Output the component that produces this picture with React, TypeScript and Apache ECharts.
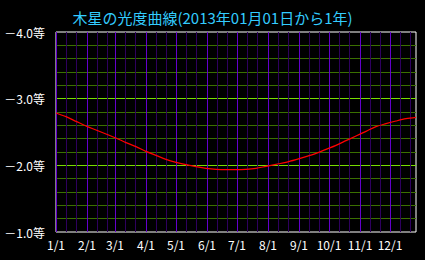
import { useEffect, useRef } from "react";
import * as echarts from "echarts";

const titleText = "木星の光度曲線(2013年01月01日から1年)";
const monthStartDays = [0, 31, 59, 90, 120, 151, 181, 212, 243, 273, 304, 334];
const monthLabels = ["1/1", "2/1", "3/1", "4/1", "5/1", "6/1", "7/1", "8/1", "9/1", "10/1", "11/1", "12/1"];
const dayOffsets = [0, 10, 20, 30, 40, 50, 60, 70, 80, 90, 100, 110, 120, 130, 140, 150, 160, 170, 180, 190, 200, 210, 220, 230, 240, 250, 260, 270, 280, 290, 300, 310, 320, 330, 340, 350, 360];
const magnitudes = [-2.785, -2.73, -2.66, -2.59, -2.53, -2.47, -2.41, -2.34, -2.28, -2.21, -2.15, -2.09, -2.045, -2.01, -1.98, -1.955, -1.94, -1.935, -1.935, -1.94, -1.955, -1.985, -2.015, -2.045, -2.085, -2.13, -2.18, -2.24, -2.3, -2.37, -2.44, -2.51, -2.58, -2.625, -2.665, -2.7, -2.72];

const FONT = "'Noto Sans CJK JP', sans-serif";
const Y_MIN = -4;
const Y_MAX = -1;

export default function App() {
  const ref = useRef<HTMLDivElement>(null);
  useEffect(() => {
    if (!ref.current) return;
    const chart = echarts.init(ref.current, undefined, { renderer: "svg" });
    // vertical guide lines: [day, 1 = month start, 0 = 11th / 21st]
    const vLineData: number[][] = [];
    monthStartDays.forEach((d) => {
      vLineData.push([d + 10, 0], [d + 20, 0]);
    });
    monthStartDays.forEach((d) => vLineData.push([d, 1]));
    const curve = dayOffsets.map((d, i) => [d, magnitudes[i]]);
    chart.setOption({
      animation: false,
      backgroundColor: "#000000",
      title: {
        text: titleText,
        left: "center",
        top: 5,
        textStyle: { color: "#33ccff", fontSize: 15, fontWeight: "normal", fontFamily: FONT },
      },
      grid: {
        left: 56,
        top: 32,
        width: 360,
        height: 200,
        show: true,
        borderColor: "#ffffff",
        borderWidth: 1,
        backgroundColor: "transparent",
      },
      xAxis: {
        type: "value",
        min: 0,
        max: 360,
        axisLine: { show: false },
        axisTick: { show: false },
        splitLine: { show: false },
        axisLabel: {
          customValues: monthStartDays,
          color: "#ffffff",
          fontSize: 12,
          fontFamily: FONT,
          margin: 6,
          formatter: (v: number) => {
            const i = monthStartDays.indexOf(Math.round(v));
            return i >= 0 ? monthLabels[i] : "";
          },
        },
      },
      yAxis: {
        type: "value",
        inverse: true,
        min: Y_MIN,
        max: Y_MAX,
        interval: 0.2,
        axisLine: { show: false },
        axisTick: { show: false },
        splitLine: {
          show: true,
          showMinLine: false,
          showMaxLine: false,
          lineStyle: { color: ["#3a7000", "#3a7000", "#3a7000", "#3a7000", "#77dd00"], width: 1 },
        },
        axisLabel: {
          color: "#ffffff",
          fontSize: 12,
          fontFamily: FONT,
          margin: 11,
          showMinLabel: true,
          showMaxLabel: true,
          formatter: (v: number) =>
            Math.abs(v - Math.round(v)) < 1e-6 ? `－${Math.abs(v).toFixed(1)}等` : "",
        },
      },
      series: [
        {
          type: "custom",
          z: 1,
          silent: true,
          data: vLineData,
          encode: { x: 0 },
          clip: true,
          renderItem: (params: any, api: any) => {
            const day = api.value(0);
            const major = api.value(1) === 1;
            const top = api.coord([day, Y_MIN]);
            const bottom = api.coord([day, Y_MAX]);
            const x = Math.round(top[0]) + 0.5;
            return {
              type: "line",
              shape: { x1: x, y1: top[1], x2: x, y2: bottom[1] },
              style: { stroke: major ? "#6400cc" : "#2e005e", lineWidth: 1 },
            };
          },
        },
        {
          type: "line",
          z: 5,
          data: curve,
          showSymbol: false,
          smooth: 0.3,
          lineStyle: { color: "#ff0000", width: 1.2 },
        },
      ],
    });
    return () => chart.dispose();
  }, []);
  return (
    <div
      ref={ref}
      style={{ position: "fixed", left: 0, top: 0, width: 425, height: 260 }}
    />
  );
}
